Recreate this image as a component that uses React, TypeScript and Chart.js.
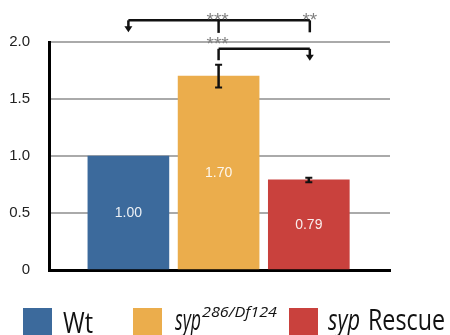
import React, { useEffect, useRef } from 'react';
import { Chart, registerables } from 'chart.js';

Chart.register(...registerables);

// ---- data ----
const categories = ['Wt', 'syp286/Df124', 'syp Rescue'];
const values = [1.0, 1.7, 0.79];
const errors = [0, 0.1, 0.02];
const valueLabels = ['1.00', '1.70', '0.79'];
const barColors = ['#3c6a9c', '#ebad4c', '#c9413d'];
const yTickLabels = ['0', '0.5', '1.0', '1.5', '2.0'];
const legendMain = ['Wt', 'syp', 'syp'];
const legendSup = ['', '286/Df124', ''];
const legendRest = ['', '', 'Rescue'];
const starsOuter = ['***', '**'];
const starsInner = ['***'];

const SANS = '"Liberation Sans", Arial, Helvetica, sans-serif';
const LEG = '"Open Sans", "Noto Sans", sans-serif';

function fitText(ctx: CanvasRenderingContext2D, text: string, x: number, y: number, w: number) {
  const m = ctx.measureText(text).width;
  const s = w / m;
  ctx.save();
  ctx.translate(x, y);
  ctx.scale(s, 1);
  ctx.fillText(text, 0, 0);
  ctx.restore();
}

function vline(ctx: CanvasRenderingContext2D, x: number, y1: number, y2: number) {
  ctx.beginPath();
  ctx.moveTo(x, y1);
  ctx.lineTo(x, y2);
  ctx.stroke();
}

function arrowDown(ctx: CanvasRenderingContext2D, x: number, y1: number, y2: number) {
  vline(ctx, x, y1, y2 - 4);
  ctx.beginPath();
  ctx.moveTo(x - 4, y2 - 6);
  ctx.lineTo(x + 4, y2 - 6);
  ctx.lineTo(x, y2);
  ctx.closePath();
  ctx.fill();
}

const overlay = {
  id: 'overlay',
  afterDatasetsDraw(chart: any) {
    const ctx: CanvasRenderingContext2D = chart.ctx;
    const ys = chart.scales.y;
    const meta = chart.getDatasetMeta(0);
    ctx.save();
    meta.data.forEach((bar: any, i: number) => {
      ctx.fillStyle = 'rgba(255,255,255,0.9)';
      ctx.font = '14px ' + SANS;
      ctx.textAlign = 'center';
      ctx.textBaseline = 'middle';
      ctx.fillText(valueLabels[i], bar.x, ys.getPixelForValue(values[i] / 2));
      if (errors[i] > 0) {
        const top = ys.getPixelForValue(values[i] + errors[i]);
        const bot = ys.getPixelForValue(values[i] - errors[i]);
        ctx.strokeStyle = '#111';
        ctx.lineWidth = 2.5;
        vline(ctx, bar.x, top, bot);
        ctx.lineWidth = 2;
        ctx.beginPath();
        ctx.moveTo(bar.x - 3.5, top);
        ctx.lineTo(bar.x + 3.5, top);
        ctx.moveTo(bar.x - 3.5, bot);
        ctx.lineTo(bar.x + 3.5, bot);
        ctx.stroke();
      }
    });
    ctx.restore();
  },
  afterDraw(chart: any) {
    const ctx: CanvasRenderingContext2D = chart.ctx;
    const ys = chart.scales.y;
    const meta = chart.getDatasetMeta(0);
    const bx = meta.data.map((b: any) => b.x);
    const Y = (v: number) => ys.getPixelForValue(v);
    ctx.save();
    ctx.strokeStyle = '#111';
    ctx.fillStyle = '#111';
    ctx.lineWidth = 2.5;
    // outer bracket
    ctx.beginPath();
    ctx.moveTo(bx[0], Y(2.19));
    ctx.lineTo(bx[2] + 1, Y(2.19));
    ctx.stroke();
    arrowDown(ctx, bx[0], Y(2.19), Y(2.085));
    vline(ctx, bx[1], Y(2.19), Y(2.08));
    vline(ctx, bx[2] + 1, Y(2.19), Y(2.085));
    // inner bracket
    ctx.beginPath();
    ctx.moveTo(bx[1], Y(1.94));
    ctx.lineTo(bx[2] + 1, Y(1.94));
    ctx.stroke();
    vline(ctx, bx[1], Y(1.94), Y(1.84));
    arrowDown(ctx, bx[2] + 1, Y(1.94), Y(1.835));
    // stars
    ctx.fillStyle = '#808080';
    ctx.font = '19px ' + SANS;
    ctx.textAlign = 'center';
    ctx.textBaseline = 'alphabetic';
    ctx.fillText(starsOuter[0], bx[1] - 1, Y(2.239) + 11);
    ctx.fillText(starsOuter[1], bx[2] + 1, Y(2.239) + 11);
    ctx.fillText(starsInner[0], bx[1] - 1, Y(2.026) + 11);

    // legend
    const sqX = [23, 133, 289];
    ctx.textAlign = 'left';
    for (let i = 0; i < categories.length; i++) {
      ctx.fillStyle = barColors[i];
      ctx.fillRect(sqX[i], 308, 29, 29);
    }
    ctx.fillStyle = '#111';
    const base = 333;
    ctx.font = '29px ' + LEG;
    fitText(ctx, legendMain[0], 63, base, 30);
    ctx.font = 'italic 29px ' + LEG;
    fitText(ctx, legendMain[1], 175, base - 3, 26);
    ctx.font = 'italic 15px ' + LEG;
    fitText(ctx, legendSup[1], 202, 317, 75);
    ctx.font = 'italic 29px ' + LEG;
    fitText(ctx, legendMain[2], 328, base - 3, 32);
    ctx.font = '29px ' + LEG;
    fitText(ctx, legendRest[2], 368, base - 3, 77);
    ctx.restore();
  },
};

export default function App() {
  const ref = useRef<HTMLCanvasElement>(null);
  useEffect(() => {
    if (!ref.current) return;
    const chart = new Chart(ref.current, {
      type: 'bar',
      data: {
        datasets: [
          {
            data: values.map((v, i) => ({ x: i, y: v })),
            backgroundColor: barColors,
            barThickness: 81,
            borderWidth: 0,
          } as any,
        ],
      },
      options: {
        responsive: false,
        animation: false,
        layout: { padding: { left: 0, right: 60, top: 42, bottom: 65 } },
        plugins: { legend: { display: false }, tooltip: { enabled: false } },
        scales: {
          x: {
            type: 'linear',
            offset: false,
            min: -0.88,
            max: 2.9,
            ticks: { display: false },
            grid: { display: false, drawTicks: false, offset: false },
            border: { display: true, color: '#000', width: 3 },
          },
          y: {
            min: 0,
            max: 2,
            ticks: {
              stepSize: 0.5,
              padding: 19,
              color: '#222',
              font: { family: SANS, size: 15 },
              callback: (_v: any, i: number) => yTickLabels[i],
            },
            grid: { color: '#aaa', lineWidth: 2, drawTicks: false },
            border: { color: '#000', width: 3 },
            afterFit: (s: any) => {
              s.width = 49;
            },
          },
        },
      } as any,
      plugins: [overlay],
    });
    return () => chart.destroy();
  }, []);
  return (
    <div style={{ position: 'fixed', left: 0, top: 0, width: 450, height: 335 }}>
      <canvas ref={ref} width={450} height={335} style={{ width: 450, height: 335 }} />
    </div>
  );
}
